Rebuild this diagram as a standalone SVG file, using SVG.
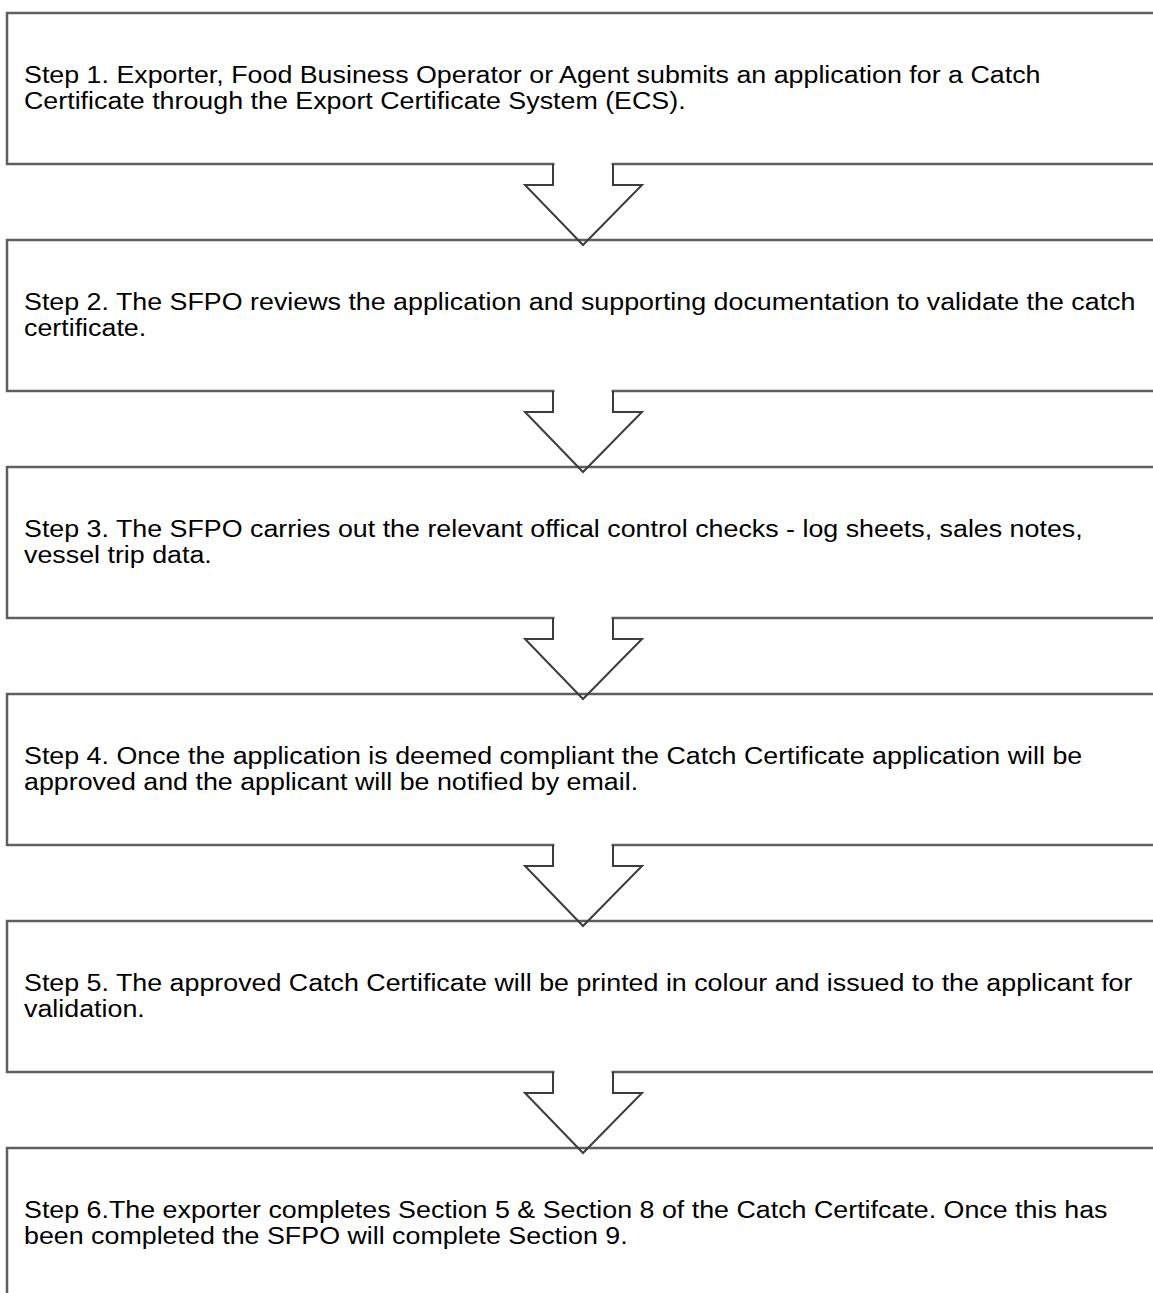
<svg xmlns="http://www.w3.org/2000/svg" width="1153" height="1293" viewBox="0 0 1153 1293">
<style>
.box{fill:none;stroke:#5f5f5f;stroke-width:2.5}
.arr{fill:none;stroke:#3c3c3c;stroke-width:2;stroke-linejoin:miter}
.gap{fill:#ffffff}
text{font-family:"Liberation Sans",Arial,sans-serif;font-size:24px;fill:#000}
</style>
<rect width="1153" height="1293" fill="#ffffff"/>
<g id="step1"><rect class="box" x="7" y="13" width="1160" height="151"/>
<text transform="translate(24,83) scale(1.118,1)">Step 1. Exporter, Food Business Operator or Agent submits an application for a Catch</text>
<text transform="translate(24,109) scale(1.118,1)">Certificate through the Export Certificate System (ECS).</text></g>
<g id="step2"><rect class="box" x="7" y="240" width="1160" height="151"/>
<text transform="translate(24,310) scale(1.118,1)">Step 2. The SFPO reviews the application and supporting documentation to validate the catch</text>
<text transform="translate(24,336) scale(1.118,1)">certificate.</text></g>
<g id="step3"><rect class="box" x="7" y="467" width="1160" height="151"/>
<text transform="translate(24,537) scale(1.118,1)">Step 3. The SFPO carries out the relevant offical control checks - log sheets, sales notes,</text>
<text transform="translate(24,563) scale(1.118,1)">vessel trip data.</text></g>
<g id="step4"><rect class="box" x="7" y="694" width="1160" height="151"/>
<text transform="translate(24,764) scale(1.118,1)">Step 4. Once the application is deemed compliant the Catch Certificate application will be</text>
<text transform="translate(24,790) scale(1.118,1)">approved and the applicant will be notified by email.</text></g>
<g id="step5"><rect class="box" x="7" y="921" width="1160" height="151"/>
<text transform="translate(24,991) scale(1.118,1)">Step 5. The approved Catch Certificate will be printed in colour and issued to the applicant for</text>
<text transform="translate(24,1017) scale(1.118,1)">validation.</text></g>
<g id="step6"><rect class="box" x="7" y="1148" width="1160" height="200"/>
<text transform="translate(24,1218) scale(1.118,1)">Step 6.The exporter completes Section 5 &amp; Section 8 of the Catch Certifcate. Once this has</text>
<text transform="translate(24,1244) scale(1.118,1)">been completed the SFPO will complete Section 9.</text></g>
<g id="connectors">
<g transform="translate(0,164)"><rect class="gap" x="554.5" y="-3" width="57" height="6"/><path class="arr" d="M553,0 V21 H525 L583,81 L642,21 H613 V0"/></g>
<g transform="translate(0,391)"><rect class="gap" x="554.5" y="-3" width="57" height="6"/><path class="arr" d="M553,0 V21 H525 L583,81 L642,21 H613 V0"/></g>
<g transform="translate(0,618)"><rect class="gap" x="554.5" y="-3" width="57" height="6"/><path class="arr" d="M553,0 V21 H525 L583,81 L642,21 H613 V0"/></g>
<g transform="translate(0,845)"><rect class="gap" x="554.5" y="-3" width="57" height="6"/><path class="arr" d="M553,0 V21 H525 L583,81 L642,21 H613 V0"/></g>
<g transform="translate(0,1072)"><rect class="gap" x="554.5" y="-3" width="57" height="6"/><path class="arr" d="M553,0 V21 H525 L583,81 L642,21 H613 V0"/></g>
</g>
</svg>
